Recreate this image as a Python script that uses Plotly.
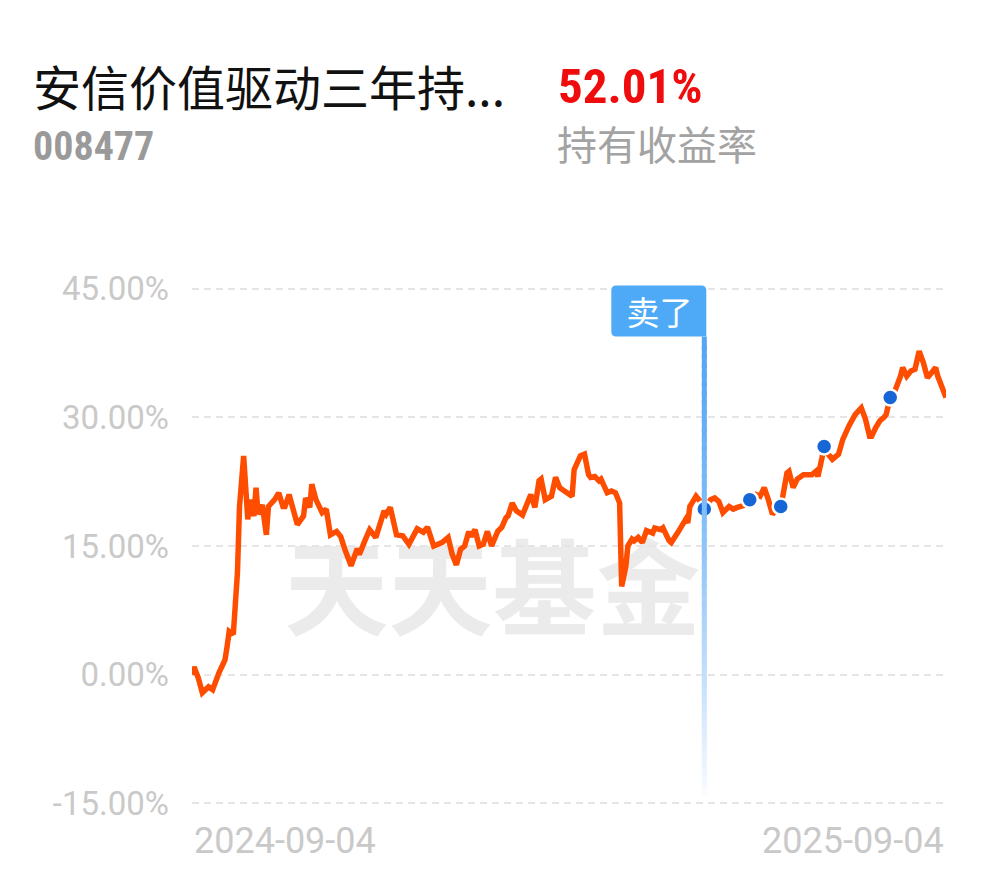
import numpy as np
import pandas as pd
import plotly.graph_objects as go

fund_name = "安信价值驱动三年持..."
fund_code = "008477"
holding_return = "52.01%"
holding_label = "持有收益率"
watermark = "天天基金"

start_date = "2024-09-04"
end_date = "2025-09-04"
x_tick_labels = ["2024-09-04", "2025-09-04"]
y_ticks = [-15, 0, 15, 30, 45]

# days since start_date
day_offsets = [
    0, 1, 3, 5, 8, 10, 13, 16, 17, 18,
    20, 22, 23, 25, 27, 28, 30, 31, 32, 34,
    36, 37, 40, 42, 44, 45, 47, 49, 51, 54,
    55, 57, 58, 60, 63, 65, 67, 70, 72, 74,
    77, 80, 81, 84, 86, 89, 93, 94, 96, 99,
    102, 105, 109, 112, 114, 117, 121, 124, 126, 128,
    130, 132, 134, 135, 137, 139, 141, 143, 145, 148,
    150, 152, 153, 155, 157, 160, 163, 164, 166, 168,
    169, 171, 174, 176, 178, 181, 183, 184, 185, 188,
    190, 192, 193, 195, 197, 198, 201, 203, 205, 207,
    208, 210, 211, 213, 214, 216, 218, 220, 223, 224,
    227, 228, 231, 232, 235, 237, 239, 240, 241, 242,
    244, 246, 248, 251, 253, 255, 257, 260, 262, 264,
    268, 270, 273, 275, 277, 279, 281, 283, 285, 286,
    288, 289, 291, 293, 296, 298, 300, 302, 303, 305,
    306, 308, 310, 313, 315, 318, 321, 324, 326, 328,
    329, 331, 333, 335, 336, 338, 340, 343, 344, 346,
    348, 350, 352, 354, 356, 358, 360, 361, 363, 365,
]

# holding return in %
returns = [
    0.0, 0.9, -0.35, -2.1, -1.4, -1.75, 0.2, 1.75, 3.3, 5.05,
    4.7, 11.9, 19.6, 25.5, 18.1, 20.4, 18.5, 21.8, 18.7, 19.8,
    16.3, 19.6, 20.4, 21.2, 19.6, 19.6, 21.0, 19.1, 17.5, 18.5,
    20.6, 19.5, 22.2, 20.4, 18.9, 19.3, 16.3, 16.7, 16.1, 14.6,
    12.7, 14.7, 14.0, 15.8, 16.9, 16.0, 19.1, 18.7, 19.5, 16.3,
    16.2, 15.2, 17.0, 16.6, 17.2, 15.0, 15.4, 16.0, 14.0, 12.8,
    14.6, 15.0, 16.7, 16.1, 16.9, 15.0, 15.2, 16.7, 15.0, 16.7,
    17.2, 18.3, 18.5, 20.0, 19.1, 18.6, 20.4, 21.0, 19.5, 22.6,
    22.8, 20.4, 20.8, 23.0, 21.8, 21.2, 20.8, 20.8, 23.9, 25.5,
    25.7, 23.3, 23.0, 23.1, 22.6, 22.8, 21.2, 21.4, 21.2, 20.0,
    10.3, 12.6, 15.0, 15.8, 15.6, 16.0, 15.4, 16.8, 16.5, 17.1,
    16.9, 17.1, 15.6, 15.4, 16.5, 17.3, 18.1, 17.7, 19.6, 20.0,
    20.8, 20.2, 19.3, 20.4, 20.6, 20.2, 18.9, 19.6, 19.3, 19.5,
    19.8, 20.4, 21.0, 20.8, 21.8, 20.4, 18.7, 19.3, 19.6, 20.8,
    23.5, 23.7, 21.8, 22.8, 23.3, 23.3, 23.3, 23.7, 23.1, 25.3,
    26.6, 25.7, 25.1, 25.7, 27.4, 29.0, 30.3, 31.1, 29.8, 27.8,
    27.8, 28.8, 29.6, 30.0, 30.3, 32.3, 32.9, 34.8, 35.8, 34.8,
    35.4, 35.6, 37.7, 36.4, 34.6, 35.2, 35.8, 34.8, 33.6, 32.3,
]

trade_days = [248, 270, 285, 306, 338]
sell_day = 248
sell_text = "卖了"

dates = pd.Timestamp(start_date) + pd.to_timedelta(day_offsets, unit="D")
ret_by_day = dict(zip(day_offsets, returns))
trade_dates = pd.Timestamp(start_date) + pd.to_timedelta(trade_days, unit="D")
trade_vals = [ret_by_day[d] for d in trade_days]
sell_date = pd.Timestamp(start_date) + pd.Timedelta(days=sell_day)

# page body has an 8px margin, so the figure is drawn 8px in from the corner
OFF = 8
W, H = 990 - OFF, 878 - OFF
ml, mr, mt, mb = 192 - OFF, 44, 280 - OFF, 66
pw, ph = W - ml - mr, H - mt - mb


def px(x):
    return (x - OFF - ml) / pw


def py(y):
    return (H - mb - (y - OFF)) / ph


orange = "#ff4d00"
blue_tag = "#4eaaf6"
grey_txt = "#c9c9c9"
cjk = "Noto Sans CJK SC"
narrow = "Liberation Sans Narrow, Roboto Condensed, Roboto"

fig = go.Figure()

fig.add_trace(go.Scatter(
    x=dates, y=returns, mode="lines",
    line=dict(color=orange, width=5.5),
    hoverinfo="skip",
))
fig.add_trace(go.Scatter(
    x=trade_dates, y=trade_vals, mode="markers",
    marker=dict(color="#1766d6", size=16, line=dict(color="white", width=2.5)),
    hoverinfo="skip", cliponaxis=False,
))

# sell marker line with fading gradient
top_v, bot_v = 39.4, -14.0
n = 50
edges = np.linspace(top_v, bot_v, n + 1)
step = edges[0] - edges[1]
c0 = np.array([84, 166, 245])
c1 = np.array([248, 251, 255])
shapes = []
for i in range(n):
    t = i / (n - 1)
    c = (c0 + (c1 - c0) * t ** 1.3).astype(int)
    y1 = edges[i + 1] - (0.4 * step if i < n - 1 else 0)
    shapes.append(dict(
        type="line", xref="x", yref="y",
        x0=sell_date, x1=sell_date, y0=edges[i], y1=y1,
        line=dict(color=f"rgb({c[0]},{c[1]},{c[2]})", width=5),
        layer="above",
    ))

# rounded tag box above the sell line (pixel sized, anchored on the sell date)
shapes.append(dict(
    type="path", xref="x", yref="y", xsizemode="pixel", ysizemode="pixel",
    xanchor=sell_date, yanchor=45,
    path="M -88,3 L -3,3 Q 2,3 2,-2 L 2,-48 L -88,-48 Q -93,-48 -93,-43 "
         "L -93,-2 Q -93,3 -88,3 Z",
    fillcolor=blue_tag, line=dict(width=0), layer="above",
))

# watermark
shapes.append(dict(
    type="rect", xref="paper", yref="paper",
    x0=px(280), x1=px(705), y0=py(654), y1=py(544),
    line=dict(width=0), fillcolor="rgba(0,0,0,0)", layer="below",
    label=dict(text=watermark, font=dict(family=cjk, size=104, color="#ebebeb", weight="bold"),
               textposition="middle center"),
))

annotations = [
    dict(text=fund_name, xref="paper", yref="paper", x=px(31), y=py(85),
         xanchor="left", yanchor="middle", showarrow=False,
         font=dict(family=cjk, size=48, color="#111111")),
    dict(text=holding_return, xref="paper", yref="paper", x=px(556), y=py(86),
         xanchor="left", yanchor="middle", showarrow=False,
         font=dict(family=narrow, size=49, color="#ee0c0c", weight="bold")),
    dict(text=fund_code, xref="paper", yref="paper", x=px(31), y=py(146),
         xanchor="left", yanchor="middle", showarrow=False,
         font=dict(family=narrow, size=40, color="#9a9a9a", weight="bold")),
    dict(text=holding_label, xref="paper", yref="paper", x=px(555), y=py(143),
         xanchor="left", yanchor="middle", showarrow=False,
         font=dict(family=cjk, size=40, color="#a3a3a3")),
    dict(text=x_tick_labels[0], xref="paper", yref="paper", x=0, y=py(841),
         xanchor="left", yanchor="middle", showarrow=False,
         font=dict(family="Roboto", size=36, color=grey_txt)),
    dict(text=x_tick_labels[1], xref="paper", yref="paper", x=1, y=py(841),
         xanchor="right", yanchor="middle", showarrow=False,
         font=dict(family="Roboto", size=36, color=grey_txt)),
    dict(text=sell_text, xref="x", yref="y", x=sell_date, y=45,
         xanchor="right", yanchor="top", yshift=4, xshift=3, showarrow=False,
         borderwidth=0, borderpad=8, width=79, height=35,
         font=dict(family=cjk, size=33, color="white")),
]

fig.update_layout(
    width=W, height=H,
    margin=dict(l=ml, r=mr, t=mt, b=mb),
    paper_bgcolor="white", plot_bgcolor="white",
    showlegend=False,
    shapes=shapes,
    annotations=annotations,
    xaxis=dict(type="date", range=[start_date, end_date], showticklabels=False,
               showgrid=False, zeroline=False, showline=False, fixedrange=True),
    yaxis=dict(range=[-16, 46], tickvals=y_ticks,
               ticktext=[f"{v:.2f}%" for v in y_ticks],
               tickfont=dict(family="Roboto", size=33, color=grey_txt),
               showgrid=True, gridcolor="#e5e5e5", gridwidth=2, griddash="7px,5px",
               zeroline=False, showline=False, ticks="", ticklabelstandoff=22,
               fixedrange=True),
)

fig.write_html("out.html")
